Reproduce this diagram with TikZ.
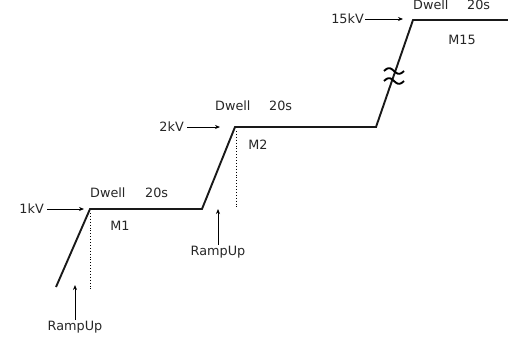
\documentclass[tikz,border=0pt]{standalone}
\usepackage{fontspec}
\setmainfont{DejaVu Sans}
\usetikzlibrary{arrows.meta}
\begin{document}
\begin{tikzpicture}[x=1pt,y=-1pt,
  lbl/.style={inner sep=1pt,font=\fontsize{12.8}{14}\selectfont,text=black!85},
  curve/.style={line width=1.9pt,black!90,line join=miter},
  ptr/.style={line width=0.8pt,-{Stealth[length=5pt,width=4pt]}},
  guide/.style={line width=0.9pt,dotted},
  brk/.style={line width=1.9pt}]
\useasboundingbox (0,0) rectangle (508,338);
% main staircase
\coordinate (p0) at (56,287);
\coordinate (p1) at (90,209);
\coordinate (p2) at (202,209);
\coordinate (p3) at (235,127);
\coordinate (p4) at (376,127);
\coordinate (p5) at (413,20);
\coordinate (p6) at (510,20);
\draw[curve] (p0) -- (p1) -- (p2) -- (p3) -- (p4) -- (p5) -- (p6);
% break mark
\foreach \yy in {71,81}{
  \draw[brk] plot[domain=-10:10,samples=30,smooth] ({394+\x},{\yy+2.8*sin(\x*360/20)});
}
% dotted guides
\coordinate (d1a) at (90,213);
\coordinate (d1b) at (90,289);
\coordinate (d2a) at (236,131);
\coordinate (d2b) at (236,207);
\draw[guide] (d1a) -- (d1b);
\draw[guide] (d2a) -- (d2b);
% voltage labels
\node[lbl,anchor=east] (k1) at (45,209) {1kV};
\coordinate (k1e) at (84,209);
\draw[ptr] (k1.east) ++(2,0) -- (k1e);
\node[lbl,anchor=east] (k2) at (185,127) {2kV};
\coordinate (k2e) at (220,127);
\draw[ptr] (k2.east) ++(2,0) -- (k2e);
\node[lbl,anchor=east] (k15) at (365,19) {15kV};
\coordinate (k15e) at (403,19);
\draw[ptr] (k15.east) -- (k15e);
% dwell labels
\node[lbl,anchor=west] (dw1) at (89,193) {Dwell};
\node[lbl,anchor=west] (t1) at (144,193) {20s};
\node[lbl,anchor=west] (dw2) at (214,106) {Dwell};
\node[lbl,anchor=west] (t2) at (268,106) {20s};
\node[lbl,anchor=west] (dw3) at (412,5) {Dwell};
\node[lbl,anchor=west] (t3) at (466,5) {20s};
% step names
\node[lbl] (m1) at (120,226) {M1};
\node[lbl] (m2) at (258,145) {M2};
\node[lbl] (m15) at (462,40) {M15};
% ramp-up labels
\node[lbl] (r1) at (75,327) {RampUp};
\coordinate (r1t) at (75,285);
\draw[ptr] (r1.north) -- (r1t);
\node[lbl] (r2) at (218,252) {RampUp};
\coordinate (r2t) at (218,209);
\draw[ptr] (r2.north) -- (r2t);
\end{tikzpicture}
\end{document}
